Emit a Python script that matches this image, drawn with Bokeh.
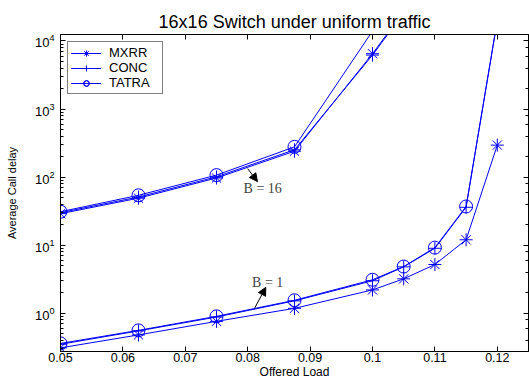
from bokeh.plotting import figure
from bokeh.models import (LinearAxis, LogAxis, FixedTicker, Arrow, NormalHead,
                          Label, CustomJSTickFormatter)
from bokeh.embed import file_html
from bokeh.resources import INLINE

# ---------------- data ----------------
x_ticks = [0.05, 0.06, 0.07, 0.08, 0.09, 0.10, 0.11, 0.12]
x_tick_labels = ["0.05", "0.06", "0.07", "0.08", "0.09", "0.1", "0.11", "0.12"]

# B = 16
x16_mxrr = [0.05, 0.0625, 0.075, 0.0875, 0.1, 0.105]
mxrr16 = [29, 49, 97, 240, 6500, 27000]
x16_conc = [0.05, 0.0625, 0.075, 0.0875, 0.1, 0.105]
conc16 = [30, 51, 101, 252, 6200, 26000]
x16_tatra = [0.05, 0.0625, 0.075, 0.0875, 0.105]
tatra16 = [31, 54, 107, 278, 67000]

# B = 1
x1 = [0.05, 0.0625, 0.075, 0.0875, 0.1, 0.105, 0.11, 0.115, 0.12]
mxrr1 = [0.31, 0.48, 0.76, 1.18, 2.2, 3.2, 5.2, 12, 295]
conc1 = [0.35, 0.55, 0.88, 1.52, 3.0, 4.8, 9.0, 36, 20000]
tatra1 = [0.36, 0.56, 0.90, 1.55, 3.1, 4.85, 9.2, 37, 20000]

# annotations (data coordinates)
b16_text = (0.0824, 68)
b16_arrow = (0.0800, 133, 0.08156, 86)
b1_text = (0.0832, 2.84)
b1_arrow = (0.0811, 1.18, 0.0829, 2.40)

BLUE = "#0000FF"
SANS = "Liberation Sans"

p = figure(width=529, height=381, y_axis_type="log",
           x_range=(0.05, 0.125), y_range=(0.274, 12440),
           output_backend="svg", toolbar_location=None,
           min_border_left=60, min_border_right=1,
           min_border_top=34, min_border_bottom=29,
           title="16x16 Switch under uniform traffic")

p.title.text_font = SANS
p.title.text_font_size = "18px"
p.title.text_font_style = "normal"
p.title.text_color = "black"
p.title.align = "center"
p.title.standoff = 6
p.title.offset = 0

p.grid.visible = False
p.outline_line_color = "black"
p.outline_line_alpha = 1
p.background_fill_color = "white"
p.border_fill_color = "white"

# bottom axis
xa = p.xaxis[0]
xa.ticker = FixedTicker(ticks=x_ticks)
xa.major_label_overrides = {t: l for t, l in zip(x_ticks, x_tick_labels)}
xa.major_tick_in = 5
xa.major_tick_out = 0
xa.minor_tick_line_color = None
xa.major_label_standoff = 1
xa.major_label_text_font = SANS
xa.major_label_text_font_size = "12.5px"
xa.major_label_text_color = "black"
xa.axis_label = "Offered Load"
xa.axis_label_text_font = SANS
xa.axis_label_text_font_size = "12px"
xa.axis_label_text_font_style = "normal"
xa.axis_label_text_color = "black"
xa.axis_label_standoff = 0
xa.axis_line_color = "black"
xa.major_tick_line_color = "black"

# left axis
ya = p.yaxis[0]
ya.major_tick_in = 5
ya.major_tick_out = 0
ya.minor_tick_in = 3
ya.minor_tick_out = 0
ya.major_label_standoff = 6
ya.major_label_text_font = SANS
ya.major_label_text_font_size = "13px"
ya.major_label_text_color = "black"
ya.axis_label = "Average Call delay"
ya.axis_label_text_font = SANS
ya.axis_label_text_font_size = "11px"
ya.axis_label_text_font_style = "normal"
ya.axis_label_text_color = "black"
ya.axis_label_standoff = 14
ya.axis_line_color = "black"
ya.major_tick_line_color = "black"
ya.minor_tick_line_color = "black"

blank = CustomJSTickFormatter(code="return ''")

top = LinearAxis(ticker=FixedTicker(ticks=x_ticks), formatter=blank,
                 major_tick_in=5, major_tick_out=0,
                 minor_tick_line_color=None, major_label_standoff=0,
                 axis_label_standoff=0, major_label_text_font_size="1px")
p.add_layout(top, "above")

right = LogAxis(formatter=blank, major_tick_in=5, major_tick_out=0,
                minor_tick_in=3, minor_tick_out=0, major_label_standoff=0,
                axis_label_standoff=0, major_label_text_font_size="1px")
p.add_layout(right, "right")

# ---------------- series ----------------
def series(xs, ys, marker, label):
    p.line(xs, ys, line_color=BLUE, line_width=1, legend_label=label)
    p.scatter(xs, ys, marker=marker, size=13, line_color=BLUE,
              fill_color=None, line_width=1, legend_label=label)

series(x16_mxrr, mxrr16, "asterisk", "MXRR")
series(x16_conc, conc16, "cross", "CONC")
series(x16_tatra, tatra16, "circle", "TATRA")
series(x1, mxrr1, "asterisk", "MXRR")
series(x1, conc1, "cross", "CONC")
series(x1, tatra1, "circle", "TATRA")

# ---------------- annotations ----------------
head = dict(size=8, fill_color="black", line_color="black")
p.add_layout(Arrow(x_start=b16_arrow[0], y_start=b16_arrow[1],
                   x_end=b16_arrow[2], y_end=b16_arrow[3],
                   end=NormalHead(**head), line_color="black", line_width=1))
p.add_layout(Arrow(x_start=b1_arrow[0], y_start=b1_arrow[1],
                   x_end=b1_arrow[2], y_end=b1_arrow[3],
                   end=NormalHead(**head), line_color="black", line_width=1))
p.add_layout(Label(x=b16_text[0], y=b16_text[1], text="B = 16",
                   text_font="Liberation Serif", text_font_size="14px",
                   text_align="center", text_baseline="middle"))
p.add_layout(Label(x=b1_text[0], y=b1_text[1], text="B = 1",
                   text_font="Liberation Serif", text_font_size="14px",
                   text_align="center", text_baseline="middle"))

# ---------------- legend ----------------
lg = p.legend[0]
lg.location = "top_left"
lg.margin = 7
lg.padding = 3
lg.spacing = 0
lg.label_height = 14
lg.glyph_height = 14
lg.glyph_width = 30
lg.label_standoff = 8
lg.label_width = 50
lg.label_text_font = SANS
lg.label_text_font_size = "13px"
lg.label_text_color = "black"
lg.border_line_color = "black"
lg.border_line_width = 1
lg.background_fill_alpha = 1

open("out.html", "w").write(file_html(p, INLINE))
